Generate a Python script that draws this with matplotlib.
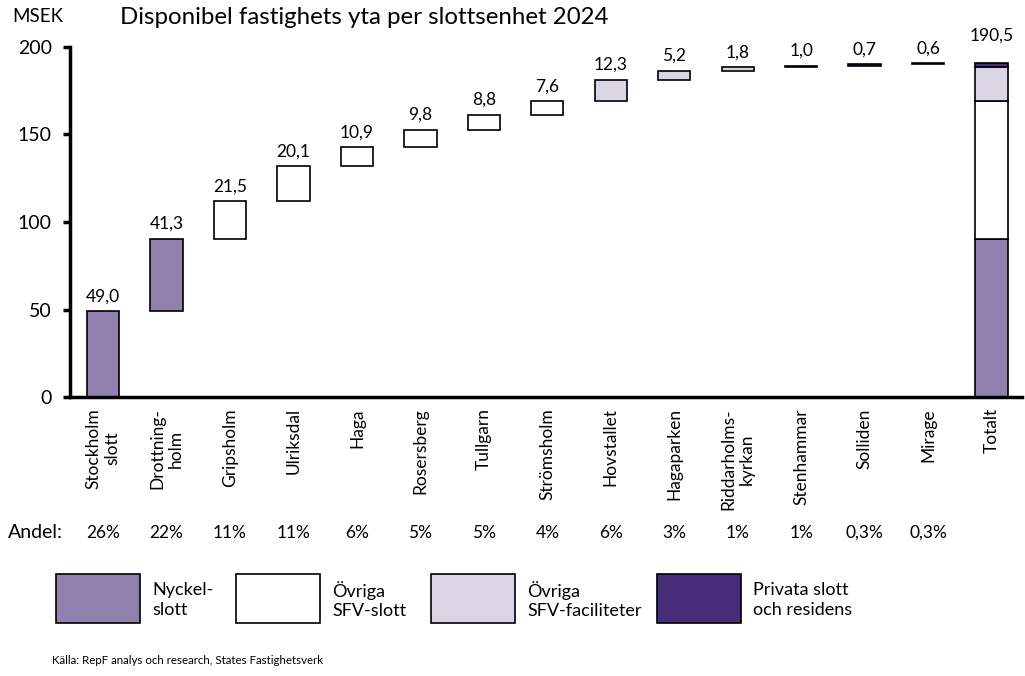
import numpy as np
import matplotlib
matplotlib.use('Agg')
import matplotlib.pyplot as plt
from matplotlib.patches import Rectangle

plt.rcParams['font.family'] = ['Lato', 'DejaVu Sans']

names = ['Stockholm\nslott', 'Drottning-\nholm', 'Gripsholm', 'Ulriksdal', 'Haga', 'Rosersberg',
         'Tullgarn', 'Strömsholm', 'Hovstallet', 'Hagaparken', 'Riddarholms-\nkyrkan',
         'Stenhammar', 'Solliden', 'Mirage', 'Totalt']
values = [49.0, 41.3, 21.5, 20.1, 10.9, 9.8, 8.8, 7.6, 12.3, 5.2, 1.8, 1.0, 0.7, 0.6]
groups = [0, 0, 1, 1, 1, 1, 1, 1, 2, 2, 2, 3, 3, 3]
total_label = '190,5'
andel = ['26%', '22%', '11%', '11%', '6%', '5%', '5%', '4%', '6%', '3%', '1%', '1%', '0,3%', '0,3%']

group_names = ['Nyckel-\nslott', 'Övriga\nSFV-slott', 'Övriga\nSFV-faciliteter', 'Privata slott\noch residens']
colors = ['#8f80ad', '#ffffff', '#dad5e4', '#472d7a']

fig = plt.figure(figsize=(10.25, 6.76), dpi=100)
ax = fig.add_axes([0.0683, 0.4127, 0.9288, 0.5178])

width = 0.51
ind = np.arange(len(values))
bottoms = np.concatenate([[0], np.cumsum(values)[:-1]])
for i, (v, b, g) in enumerate(zip(values, bottoms, groups)):
    ax.bar(i, v, width, bottom=b, color=colors[g], edgecolor='black', linewidth=1.2)
    txt = ('%.1f' % v).replace('.', ',')
    ax.annotate(txt, (i, b + v), xytext=(0, 5), textcoords='offset points',
                ha='center', va='bottom', fontsize=12.5)

# total bar stacked by group
tot_x = len(values)
bot = 0
for g in range(4):
    s = sum(v for v, gg in zip(values, groups) if gg == g)
    ax.bar(tot_x, s, width, bottom=bot, color=colors[g], edgecolor='black', linewidth=1.2)
    bot += s
ax.annotate(total_label, (tot_x, bot), xytext=(0, 14), textcoords='offset points',
            ha='center', va='bottom', fontsize=12.5)

ax.set_xlim(-0.52, 14.48)
ax.set_ylim(0, 200)
ax.set_yticks([0, 50, 100, 150, 200])
ax.tick_params(axis='y', labelsize=14, width=2.5, length=5, pad=8)
ax.set_xticks(np.arange(len(names)))
ax.set_xticklabels(names, rotation=90, fontsize=12.5, ha='center', va='top', multialignment='center')
ax.tick_params(axis='x', length=0, pad=8)
for sp in ['top', 'right']:
    ax.spines[sp].set_visible(False)
ax.spines['left'].set_linewidth(2.5)
ax.spines['bottom'].set_linewidth(2.5)

fig.text(12 / 1025, 1 - 16 / 676, 'MSEK', fontsize=13.5, va='center', ha='left')
fig.text(120 / 1025, 1 - 18 / 676, 'Disponibel fastighets yta per slottsenhet 2024',
         fontsize=17.3, va='center', ha='left')

# Andel row
fig.text(8 / 1025, 1 - 533 / 676, 'Andel:', fontsize=14, va='center', ha='left')
andel_y = (1 - 533 / 676 - 0.4127) / 0.5178
for i, a in enumerate(andel):
    ax.text(i, andel_y, a, transform=ax.get_xaxis_transform(), ha='center', va='center',
            fontsize=12.5)

# legend
box_x = [56, 236, 431, 657]
for g in range(4):
    x0 = box_x[g]
    fig.patches.append(Rectangle((x0 / 1025, 1 - 623 / 676), 84 / 1025, 49 / 676,
                                 transform=fig.transFigure, facecolor=colors[g],
                                 edgecolor='black', linewidth=1.2))
    fig.text((x0 + 96) / 1025, 1 - 600 / 676, group_names[g], fontsize=13,
             va='center', ha='left', linespacing=1.3)

fig.text(52 / 1025, 1 - 660 / 676, 'Källa: RepF analys och research, States Fastighetsverk',
         fontsize=8.3, va='center', ha='left')

fig.savefig('out.png', dpi=100)
plt.close()
